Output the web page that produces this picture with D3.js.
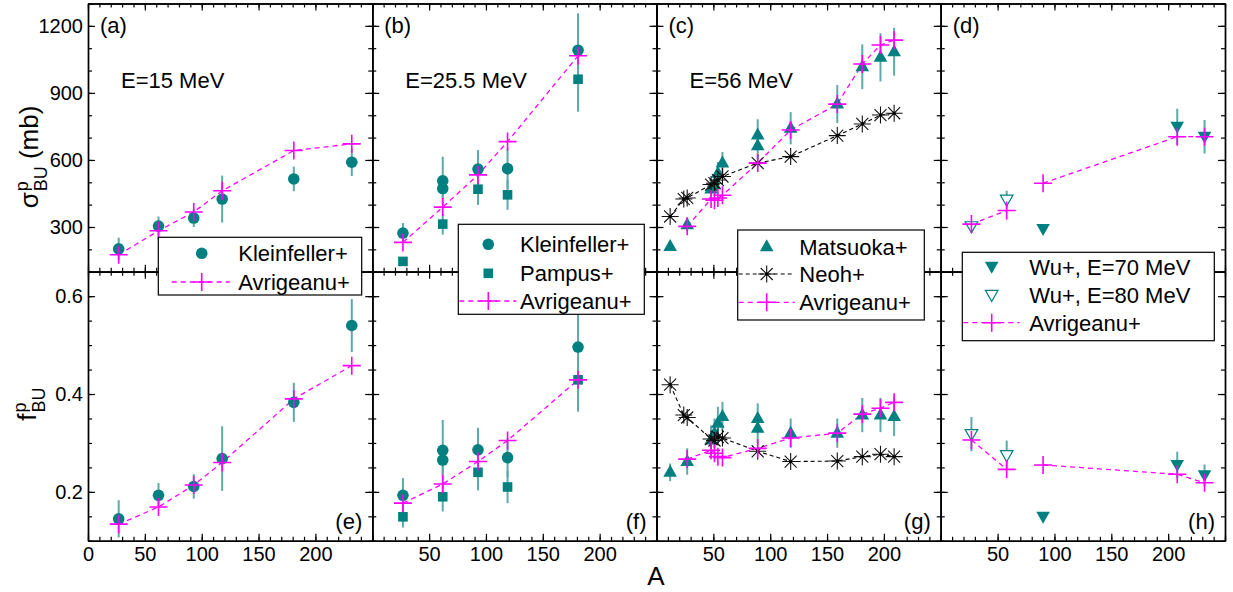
<!DOCTYPE html>
<html>
<head>
<meta charset="utf-8">
<script src="https://cdn.jsdelivr.net/npm/d3@7"></script>
<style>
  body { margin: 0; background: #fff; }
  svg { display: block; }
  text { font-family: "Liberation Sans", Arial, Helvetica, sans-serif; fill: #000; }
</style>
</head>
<body>
<svg id="chart" width="1233" height="592"></svg>
<script>
// ---------- data: break-up cross sections (mb) and fractions vs. mass number A ----------
// E = 15 MeV
const klein15A = [27, 62, 93, 118, 181, 232];
const klein15Sig = [202, 304, 340, 425, 515, 590];
const klein15SigErr = [50, 43, 40, 105, 55, 62];
const klein15F = [0.145, 0.193, 0.211, 0.268, 0.383, 0.540];
const klein15FErr = [0.038, 0.025, 0.025, 0.066, 0.040, 0.054];
const avr15A = [27, 62, 93, 118, 181, 232];
const avr15Sig = [176, 283, 367, 462, 642, 672];
const avr15F = [0.134, 0.169, 0.214, 0.260, 0.390, 0.458];

// E = 25.5 MeV
const klein25A = [27, 62, 62, 93, 119, 181];
const klein25Sig = [273, 472, 507, 559, 561, 1091];
const klein25SigErr = [45, 45, 108, 85, 90, 165];
const klein25F = [0.193, 0.265, 0.285, 0.286, 0.270, 0.496];
const klein25FErr = [0.035, 0.030, 0.062, 0.045, 0.040, 0.070];
const pampus25A = [27, 62, 93, 119, 181];
const pampus25Sig = [146, 313, 469, 444, 961];
const pampus25SigErr = [20, 47, 70, 67, 145];
const pampus25F = [0.149, 0.190, 0.240, 0.210, 0.429];
const pampus25FErr = [0.022, 0.030, 0.037, 0.033, 0.065];
const avr25A = [27, 62, 93, 119, 181];
const avr25Sig = [231, 389, 533, 682, 1066];
const avr25F = [0.177, 0.216, 0.262, 0.305, 0.429];

// E = 56 MeV
const matsuA = [12, 27, 48, 51, 54, 58, 89, 89, 118, 159, 181, 197, 209];
const matsuSig = [213, 310, 470, 489, 541, 586, 664, 712, 742, 850, 1017, 1059, 1084];
const matsuSigErr = [20, 30, 40, 45, 50, 50, 60, 70, 72, 85, 100, 108, 107];
const matsuF = [0.240, 0.262, 0.306, 0.320, 0.340, 0.354, 0.330, 0.350, 0.320, 0.320, 0.357, 0.357, 0.354];
const matsuFErr = [0.018, 0.027, 0.030, 0.030, 0.034, 0.030, 0.030, 0.031, 0.030, 0.030, 0.035, 0.035, 0.040];
const neohA = [12, 24, 27, 48, 51, 54, 58, 89, 118, 159, 181, 197, 209];
const neohSig = [347, 425, 430, 490, 496, 510, 526, 586, 615, 709, 761, 801, 809];
const neohF = [0.419, 0.357, 0.352, 0.308, 0.305, 0.312, 0.310, 0.283, 0.262, 0.263, 0.272, 0.277, 0.272];
const avr56A = [27, 48, 51, 54, 58, 89, 118, 159, 181, 197, 209];
const avr56Sig = [303, 425, 420, 430, 442, 586, 734, 850, 1029, 1114, 1136];
const avr56F = [0.267, 0.285, 0.279, 0.272, 0.270, 0.289, 0.310, 0.320, 0.359, 0.371, 0.383];

// E = 70 / 80 MeV
const wu70A = [90, 208, 232];
const wu70Sig = [291, 749, 704];
const wu70SigErr = [15, 80, 75];
const wu70F = [0.149, 0.255, 0.234];
const wu70FErr = [0.010, 0.027, 0.022];
const wu80A = [27, 58];
const wu80Sig = [303, 422];
const wu80SigErr = [15, 40];
const wu80F = [0.318, 0.275];
const wu80FErr = [0.035, 0.030];
const avr80A = [27, 58];
const avr80Sig = [313, 374];
const avr80F = [0.306, 0.246];
const avr70A = [90, 208, 232];
const avr70Sig = [496, 704, 704];
const avr70F = [0.255, 0.236, 0.2185];

// axis ticks
const xMajor = [0, 50, 100, 150, 200, 250];
const xMinor = d3.range(0, 251, 10);
const sigMajor = [300, 600, 900, 1200];
const sigMinor = d3.range(100, 1301, 100);
const fMajor = [0.2, 0.4, 0.6];
const fMinor = [0.1, 0.15, 0.2, 0.25, 0.3, 0.35, 0.4, 0.45, 0.5, 0.55, 0.6, 0.65];
const topLabels = ["(a)", "(b)", "(c)", "(d)"];
const bottomLabels = ["(e)", "(f)", "(g)", "(h)"];
const energyLabels = ["E=15 MeV", "E=25.5 MeV", "E=56 MeV", ""];

// ---------- layout ----------
const TEAL = "#008080", MAGENTA = "#ff00ff", ERR = "#5ea9a9";
const plotLeft = 88, pw = 284.25, plotTop = 3.5, plotMid = 271.7, plotBot = 540.8;
const svg = d3.select("#chart");

const ySig = d3.scaleLinear().domain([100, 1300]).range([plotMid, plotTop]);
const yF = d3.scaleLinear().domain([0.1, 0.65]).range([plotBot, plotMid]);
const xScales = [0, 1, 2, 3].map(c => d3.scaleLinear().domain([0, 250]).range([plotLeft + c * pw, plotLeft + (c + 1) * pw]));

// marker painters
function drawMarker(g, type, x, y) {
  if (type === "circle") {
    g.append("circle").attr("cx", x).attr("cy", y).attr("r", 5.8).attr("fill", TEAL);
  } else if (type === "square") {
    g.append("rect").attr("x", x - 4.8).attr("y", y - 4.8).attr("width", 9.6).attr("height", 9.6).attr("fill", TEAL);
  } else if (type === "triUp") {
    g.append("path").attr("d", `M${x},${y - 7.5}L${x + 6.8},${y + 4.5}L${x - 6.8},${y + 4.5}Z`).attr("fill", TEAL);
  } else if (type === "triDown") {
    g.append("path").attr("d", `M${x},${y + 7}L${x + 6.8},${y - 5}L${x - 6.8},${y - 5}Z`).attr("fill", TEAL);
  } else if (type === "triDownOpen") {
    g.append("path").attr("d", `M${x},${y + 6.5}L${x + 6.3},${y - 4.6}L${x - 6.3},${y - 4.6}Z`)
      .attr("fill", "#fff").attr("stroke", TEAL).attr("stroke-width", 1.2);
  } else if (type === "cross") {
    g.append("path").attr("d", `M${x - 9},${y}H${x + 9}M${x},${y - 9}V${y + 9}`)
      .attr("stroke", MAGENTA).attr("stroke-width", 1.6).attr("fill", "none");
  } else if (type === "star") {
    const r = 8.5, d = r * Math.SQRT1_2;
    g.append("path")
      .attr("d", `M${x - r},${y}H${x + r}M${x},${y - r}V${y + r}M${x - d},${y - d}L${x + d},${y + d}M${x - d},${y + d}L${x + d},${y - d}`)
      .attr("stroke", "#111").attr("stroke-width", 1.1).attr("fill", "none");
    g.append("circle").attr("cx", x).attr("cy", y).attr("r", 1.6).attr("fill", "#000");
  }
}

const lineStyle = {
  cross: { stroke: MAGENTA, dash: "5,4", width: 1.3 },
  star: { stroke: "#000", dash: "4,3", width: 1.1 }
};

// panel definitions: one per column, each with top (sigma) and bottom (fraction) series
const panels = [
  {
    sig: [
      { type: "circle", A: klein15A, v: klein15Sig, err: klein15SigErr },
      { type: "cross", A: avr15A, v: avr15Sig, line: true }
    ],
    f: [
      { type: "circle", A: klein15A, v: klein15F, err: klein15FErr },
      { type: "cross", A: avr15A, v: avr15F, line: true }
    ]
  },
  {
    sig: [
      { type: "circle", A: klein25A, v: klein25Sig, err: klein25SigErr },
      { type: "square", A: pampus25A, v: pampus25Sig, err: pampus25SigErr },
      { type: "cross", A: avr25A, v: avr25Sig, line: true }
    ],
    f: [
      { type: "circle", A: klein25A, v: klein25F, err: klein25FErr },
      { type: "square", A: pampus25A, v: pampus25F, err: pampus25FErr },
      { type: "cross", A: avr25A, v: avr25F, line: true }
    ]
  },
  {
    sig: [
      { type: "triUp", A: matsuA, v: matsuSig, err: matsuSigErr },
      { type: "star", A: neohA, v: neohSig, line: true },
      { type: "cross", A: avr56A, v: avr56Sig, line: true }
    ],
    f: [
      { type: "triUp", A: matsuA, v: matsuF, err: matsuFErr },
      { type: "star", A: neohA, v: neohF, line: true },
      { type: "cross", A: avr56A, v: avr56F, line: true }
    ]
  },
  {
    sig: [
      { type: "triDown", A: wu70A, v: wu70Sig, err: wu70SigErr },
      { type: "triDownOpen", A: wu80A, v: wu80Sig, err: wu80SigErr },
      { type: "cross", A: avr80A, v: avr80Sig, line: true },
      { type: "cross", A: avr70A, v: avr70Sig, line: true }
    ],
    f: [
      { type: "triDown", A: wu70A, v: wu70F, err: wu70FErr },
      { type: "triDownOpen", A: wu80A, v: wu80F, err: wu80FErr },
      { type: "cross", A: avr80A, v: avr80F, line: true },
      { type: "cross", A: avr70A, v: avr70F, line: true }
    ]
  }
];

function drawSeries(g, x, y, seriesList) {
  // error bars first
  seriesList.forEach(s => {
    if (!s.err) return;
    s.A.forEach((a, i) => {
      g.append("line")
        .attr("x1", x(a)).attr("x2", x(a))
        .attr("y1", y(s.v[i] - s.err[i])).attr("y2", y(s.v[i] + s.err[i]))
        .attr("stroke", ERR).attr("stroke-width", 2);
    });
  });
  // connecting dashed lines
  seriesList.forEach(s => {
    if (!s.line) return;
    const st = lineStyle[s.type];
    g.append("path")
      .attr("d", d3.line().x((a) => x(a)).y((a, i) => y(s.v[i]))(s.A))
      .attr("fill", "none").attr("stroke", st.stroke)
      .attr("stroke-width", st.width).attr("stroke-dasharray", st.dash);
  });
  // markers
  seriesList.forEach(s => {
    s.A.forEach((a, i) => drawMarker(g, s.type, x(a), y(s.v[i])));
  });
}

function frameAxes(g, x, y, yMajor, yMinor, showYLabels, showXLabels, fmtY) {
  const x0 = x.range()[0], x1 = x.range()[1];
  const y0 = y.range()[0], y1 = y.range()[1];
  const style = sel => {
    sel.selectAll("path").attr("stroke", "#000").attr("stroke-width", 1.4);
    sel.selectAll("line").attr("stroke", "#000").attr("stroke-width", 1.2);
    sel.selectAll("text").attr("font-size", 20).attr("font-family", "Liberation Sans, Arial, sans-serif").attr("fill", "#000");
  };
  // left
  g.append("g").attr("transform", `translate(${x0},0)`)
    .call(d3.axisLeft(y).tickValues(yMinor).tickSize(-4).tickSizeOuter(0).tickFormat("")).call(style);
  g.append("g").attr("transform", `translate(${x0},0)`)
    .call(d3.axisLeft(y).tickValues(yMajor).tickSize(-7).tickSizeOuter(0).tickPadding(5)
      .tickFormat(showYLabels ? fmtY : "")).call(style);
  // right
  g.append("g").attr("transform", `translate(${x1},0)`)
    .call(d3.axisRight(y).tickValues(yMinor).tickSize(-4).tickSizeOuter(0).tickFormat("")).call(style);
  g.append("g").attr("transform", `translate(${x1},0)`)
    .call(d3.axisRight(y).tickValues(yMajor).tickSize(-7).tickSizeOuter(0).tickFormat("")).call(style);
  // top
  g.append("g").attr("transform", `translate(0,${y1})`)
    .call(d3.axisTop(x).tickValues(xMinor).tickSize(-4).tickSizeOuter(0).tickFormat("")).call(style);
  g.append("g").attr("transform", `translate(0,${y1})`)
    .call(d3.axisTop(x).tickValues(xMajor).tickSize(-7).tickSizeOuter(0).tickFormat("")).call(style);
  // bottom
  g.append("g").attr("transform", `translate(0,${y0})`)
    .call(d3.axisBottom(x).tickValues(xMinor).tickSize(-4).tickSizeOuter(0).tickFormat("")).call(style);
  g.append("g").attr("transform", `translate(0,${y0})`)
    .call(d3.axisBottom(x).tickValues(xMajor).tickSize(-7).tickSizeOuter(0).tickPadding(6)
      .tickFormat(d => (showXLabels.includes(d) ? d3.format("d")(d) : ""))).call(style);
}

panels.forEach((p, c) => {
  const x = xScales[c];
  const gTop = svg.append("g");
  const gBot = svg.append("g");
  drawSeries(gTop, x, ySig, p.sig);
  drawSeries(gBot, x, yF, p.f);
  frameAxes(gTop, x, ySig, sigMajor, sigMinor, c === 0, [], d3.format("d"));
  frameAxes(gBot, x, yF, fMajor, fMinor, c === 0, c === 0 ? [0, 50, 100, 150, 200] : [50, 100, 150, 200], d3.format(".1f"));

  svg.append("text").attr("x", x.range()[0] + 12).attr("y", 33).attr("font-size", 22).text(topLabels[c]);
  svg.append("text").attr("x", x.range()[1] - 10).attr("y", 529).attr("text-anchor", "end").attr("font-size", 22).text(bottomLabels[c]);
  if (energyLabels[c]) {
    svg.append("text").attr("x", x.range()[0] + 33).attr("y", 88).attr("font-size", 22).text(energyLabels[c]);
  }
});

// ---------- legends ----------
const legends = [
  { box: [158.3, 237.3, 203.4, 57.7], mx: 201.7, tx: 238.3,
    items: [{ type: "circle", label: "Kleinfeller+", y: 253.3 }, { type: "cross", label: "Avrigeanu+", y: 282, line: true }] },
  { box: [458.3, 224.3, 186, 90], mx: 488.3, tx: 520,
    items: [{ type: "circle", label: "Kleinfeller+", y: 244.3 }, { type: "square", label: "Pampus+", y: 273.3 },
            { type: "cross", label: "Avrigeanu+", y: 301, line: true }] },
  { box: [737.7, 230, 186.6, 90], mx: 766.7, tx: 799.3,
    items: [{ type: "triUp", label: "Matsuoka+", y: 246.7 }, { type: "star", label: "Neoh+", y: 274, line: true },
            { type: "cross", label: "Avrigeanu+", y: 302.3, line: true }] },
  { box: [962.3, 252.3, 252, 88.4], mx: 991.7, tx: 1029.3,
    items: [{ type: "triDown", label: "Wu+, E=70 MeV", y: 266.7 }, { type: "triDownOpen", label: "Wu+, E=80 MeV", y: 295 },
            { type: "cross", label: "Avrigeanu+", y: 322.7, line: true }] }
];

legends.forEach(L => {
  const g = svg.append("g");
  const [bx, by, bw, bh] = L.box;
  g.append("rect").attr("x", bx).attr("y", by).attr("width", bw).attr("height", bh)
    .attr("fill", "#fff").attr("stroke", "#000").attr("stroke-width", 1.2);
  L.items.forEach(it => {
    if (it.line) {
      const st = lineStyle[it.type];
      g.append("line").attr("x1", Math.max(bx + 1, L.mx - 30)).attr("x2", L.mx + 28)
        .attr("y1", it.y).attr("y2", it.y)
        .attr("stroke", st.stroke).attr("stroke-width", st.width).attr("stroke-dasharray", st.dash);
    }
    drawMarker(g, it.type, L.mx, it.y);
    g.append("text").attr("x", L.tx).attr("y", it.y).attr("dy", "0.36em").attr("font-size", 22).text(it.label);
  });
});

// ---------- axis titles ----------
function yTitle(cx, cy, main, sup, sub, tail) {
  const g = svg.append("g");
  const inner = g.append("g");
  const t1 = inner.append("text").attr("font-size", 26).text(main);
  const w1 = t1.node().getComputedTextLength();
  const ts = inner.append("text").attr("font-size", 18).attr("x", w1 + 1).attr("y", -10).text(sup);
  const tb = inner.append("text").attr("font-size", 18).attr("x", w1 + 1).attr("y", 9).text(sub);
  let total = w1 + 1 + Math.max(ts.node().getComputedTextLength(), tb.node().getComputedTextLength());
  if (tail) {
    const t3 = inner.append("text").attr("font-size", 26).attr("x", total).text(tail);
    total += t3.node().getComputedTextLength();
  }
  g.attr("transform", `translate(${cx},${cy}) rotate(-90) translate(${-total / 2},0)`);
}
yTitle(38, 157, "σ", "p", "BU", "\u00a0(mb)");
yTitle(36, 404, "f", "p", "BU", "");

svg.append("text").attr("x", 656).attr("y", 585).attr("text-anchor", "middle").attr("font-size", 26).text("A");
</script>
</body>
</html>
